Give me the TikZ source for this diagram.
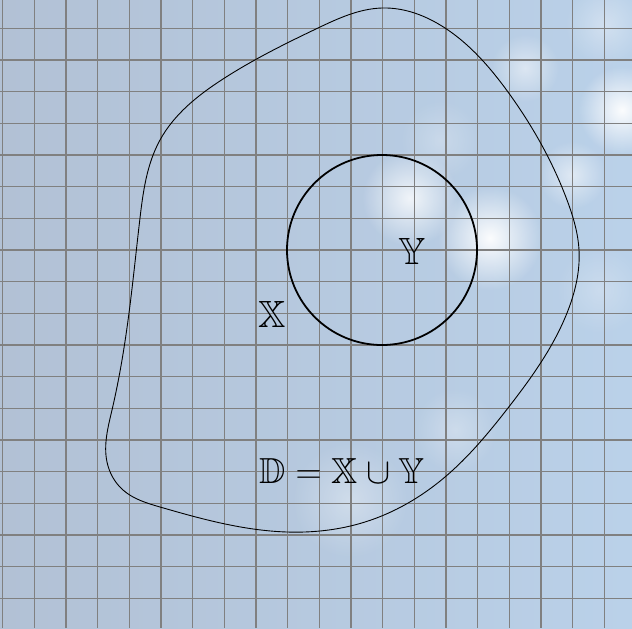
\RequirePackage{fix-cm}
\documentclass[tikz,border=0pt]{standalone}
\usepackage{amssymb}
\usetikzlibrary{fadings,hobby}
\definecolor{bgleft}{RGB}{178,193,213}
\definecolor{bgright}{RGB}{186,209,233}
\definecolor{gridc}{RGB}{128,128,128}
\tikzfading[name=softblob, inner color=transparent!0, outer color=transparent!100]
\tikzset{
  blob/.style={fill=white, path fading=softblob},
  gridline/.style={draw=gridc, line width=1.1pt},
  region/.style={draw=black, line width=0.8pt},
  subset/.style={draw=black, line width=1.6pt},
  lbl/.style={inner sep=0pt, font=\fontsize{34}{40}\selectfont},
  formula/.style={inner sep=0pt, font=\fontsize{32.5}{38}\selectfont}
}
\begin{document}
\begin{tikzpicture}[x=0.8968pt,y=-0.8968pt]
\useasboundingbox (0,0) rectangle (632,628);
% background
\shade[left color=bgleft, right color=bgright] (0,0) rectangle (632,628);
\begin{scope}
\clip (0,0) rectangle (632,628);
\fill[blob, fill opacity=0.95] (490,238) circle (52);
\fill[blob, fill opacity=0.8] (410,198) circle (48);
\fill[blob, fill opacity=0.95] (622,110) circle (44);
\fill[blob, fill opacity=0.55] (572,175) circle (34);
\fill[blob, fill opacity=0.5] (525,68) circle (34);
\fill[blob, fill opacity=0.35] (350,500) circle (58);
\fill[blob, fill opacity=0.3] (455,430) circle (42);
\fill[blob, fill opacity=0.35] (605,25) circle (40);
\fill[blob, fill opacity=0.25] (440,140) circle (40);
\fill[blob, fill opacity=0.25] (600,290) circle (44);
\end{scope}
% grid
\foreach \k in {0,...,19} \draw[gridline] ({2.7+31.67*\k},0) -- ({2.7+31.67*\k},628);
\foreach \k in {0,...,18} \draw[gridline] (0,{28.3+31.67*\k}) -- (632,{28.3+31.67*\k});
% region D
\draw[region] plot[closed hobby] coordinates {
 (382,8) (445,28) (508,92) (567,200) (579,250) (567,313) (508,408)
 (445,477) (365,522) (287,532) (160,507) (123,490) (107,462) (112,410)
 (129,313) (140,218) (160,140) (223,79) (318,28)};
% region Y
\node[subset, circle, minimum size=190*0.8968pt, inner sep=0pt] (ycirc) at (382,250) {};
% labels
\node[lbl] (ylbl) at (412,251) {$\mathbb{Y}$};
\node[lbl] (xlbl) at (272,314) {$\mathbb{X}$};
\node[formula] (dlbl) at (342,471) {$\mathbb{D}=\mathbb{X}\cup\mathbb{Y}$};
\end{tikzpicture}
\end{document}
